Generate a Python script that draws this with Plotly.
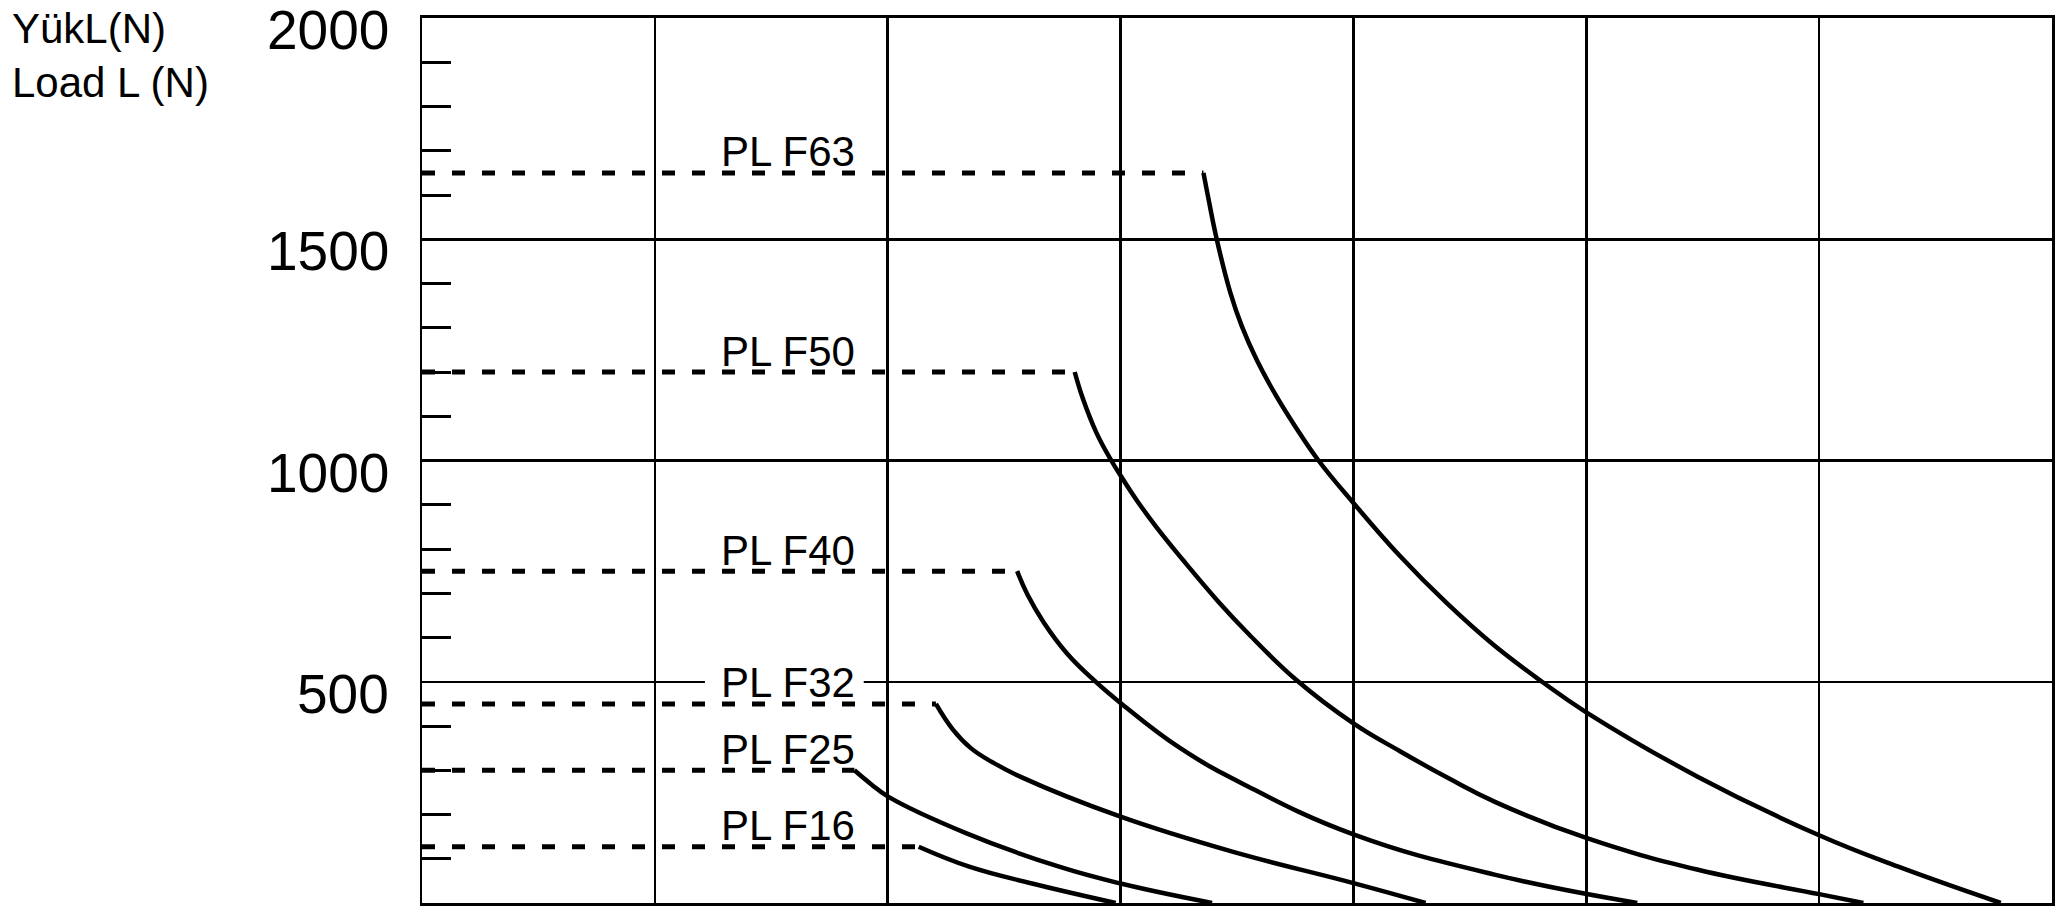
import plotly.graph_objects as go

# ---------------- data ----------------
models = ["PL F63", "PL F50", "PL F40", "PL F32", "PL F25", "PL F16"]
max_load = [1650, 1200, 750, 450, 300, 127]          # N, dashed plateau level

# curve points (x in grid units, load in N)
curve_x = {
    "PL F63": [3.356, 3.378, 3.413, 3.471, 3.521, 3.585, 3.664, 3.75, 3.85, 4.0,
               4.2, 4.4, 4.6, 4.81, 5.0, 5.48, 6.0, 6.34, 6.78],
    "PL F50": [2.803, 2.838, 2.896, 2.96, 3.0, 3.067, 3.153, 3.268, 3.42, 3.55,
               3.755, 4.0, 4.2, 4.415, 4.61, 5.0, 5.48, 6.0, 6.19],
    "PL F40": [2.556, 2.6, 2.67, 2.77, 2.895, 3.0, 3.25, 3.53, 4.0, 4.615, 5.219],
    "PL F32": [2.207, 2.28, 2.357, 2.45, 2.571, 3.0, 3.48, 4.0, 4.31],
    "PL F25": [1.857, 1.93, 2.0, 2.336, 2.736, 3.0, 3.393],
    "PL F16": [2.133, 2.35, 2.62, 2.979],
}
curve_y = {
    "PL F63": [1650, 1590, 1500, 1380, 1303, 1227, 1150, 1077, 1000, 904,
               784, 678, 584, 500, 431, 285, 153, 82, 0],
    "PL F50": [1200, 1140, 1063, 1000, 966, 912, 850, 775, 681, 608,
               504, 406, 343, 280, 228, 147, 75, 20, 0],
    "PL F40": [750, 697, 634, 564, 499, 452, 352, 268, 155, 63, 0],
    "PL F32": [450, 392, 350, 318, 285, 195, 116, 45, 0],
    "PL F25": [300, 268, 241, 158, 82, 44, 0],
    "PL F16": [127, 82, 44, 0],
}

y_tick_vals = [500, 1000, 1500, 2000]
y_tick_text = ["500", "1000", "1500", "2000"]
y_title_lines = ["YükL(N)", "Load L (N)"]
x_range = [0, 7]
y_range = [0, 2000]
label_x = 1.57

# ---------------- figure ----------------
fig = go.Figure()
FONT = "Liberation Sans, Arial, Helvetica, sans-serif"

for m, lvl in zip(models, max_load):
    xs = curve_x[m]
    ys = curve_y[m]
    # dashed plateau from axis to knee
    fig.add_trace(go.Scatter(
        x=[x_range[0], xs[0]], y=[lvl, lvl], mode="lines",
        line=dict(color="black", width=5, dash="13px,17px"),
        showlegend=False, hoverinfo="skip"))
    # load curve
    fig.add_trace(go.Scatter(
        x=xs, y=ys, mode="lines", name=m,
        line=dict(color="black", width=4.5, shape="spline", smoothing=1.2),
        showlegend=False))
    fig.add_annotation(
        x=label_x, y=lvl, xref="x", yref="y", text=m, showarrow=False,
        xanchor="center", yanchor="middle", yshift=21,
        font=dict(family=FONT, size=42, color="black"))

# white mask hiding the 500 gridline behind the "PL F32" label
idx32 = models.index("PL F32")
fig.add_shape(type="rect", xref="x", yref="y",
              x0=label_x - 0.355, x1=label_x + 0.327,
              y0=max_load[idx32] + 35, y1=max_load[idx32] + 65,
              fillcolor="white", line=dict(width=0), layer="between")

# y tick labels (shifted slightly below the gridlines as in the source)
for v, t in zip(y_tick_vals, y_tick_text):
    fig.add_annotation(
        x=0, y=v, xref="paper", yref="y", text=t, showarrow=False,
        xanchor="right", yanchor="middle", xshift=-31, yshift=-12,
        font=dict(family=FONT, size=55, color="black"))

# axis title (two lines, top-left)
for i, line in enumerate(y_title_lines):
    fig.add_annotation(
        x=0, y=1, xref="paper", yref="paper", text=line, showarrow=False,
        xanchor="left", yanchor="top", xshift=-412, yshift=15 - 54 * i,
        font=dict(family=FONT, size=42, color="black"))

fig.update_layout(
    width=2055, height=909, autosize=False,
    margin=dict(l=422, r=3, t=18, b=6),
    paper_bgcolor="white", plot_bgcolor="white",
    showlegend=False,
    xaxis=dict(range=x_range, tick0=0, dtick=1, showgrid=True,
               gridcolor="black", gridwidth=2.5, showticklabels=False,
               ticks="", zeroline=False, showline=True, linecolor="black",
               linewidth=3, mirror=True, automargin=False, fixedrange=True),
    yaxis=dict(range=y_range, tick0=0, dtick=500, showgrid=True,
               gridcolor="black", gridwidth=2.5, showticklabels=False,
               ticks="", zeroline=False, showline=True, linecolor="black",
               linewidth=2.5, mirror=True, automargin=False, fixedrange=True,
               minor=dict(dtick=100, tick0=0, ticks="inside", ticklen=29,
                          tickwidth=3, tickcolor="black", showgrid=False)),
)

fig.write_html("out.html",
               config={"displayModeBar": False, "staticPlot": True},
               post_script="document.body.style.margin='0';"
                           "document.body.style.overflow='hidden';")
